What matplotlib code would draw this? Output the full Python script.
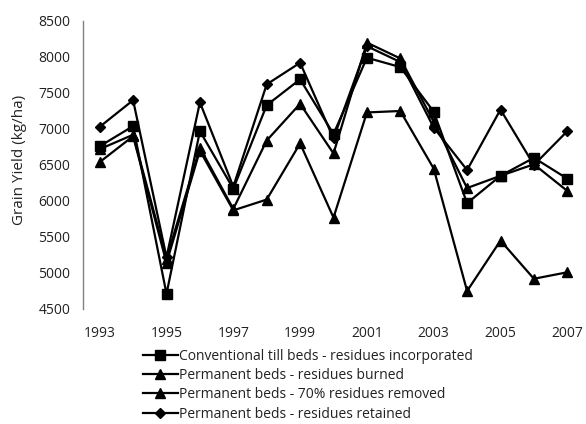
import matplotlib
matplotlib.use("Agg")
import matplotlib.pyplot as plt

years = list(range(1993, 2008))
conventional = [6760, 7040, 4710, 6970, 6170, 7330, 7690, 6930, 7990, 7860, 7240, 5970, 6350, 6600, 6310]
burned = [6540, 6900, 5140, 6700, 5870, 6020, 6800, 5770, 7230, 7250, 6450, 4750, 5450, 4920, 5010]
removed70 = [6720, 6920, 5200, 6740, 5890, 6840, 7350, 6660, 8200, 7980, 7100, 6180, 6350, 6510, 6140]
retained = [7030, 7400, 5220, 7370, 6200, 7620, 7920, 6870, 8150, 7930, 7020, 6430, 7270, 6500, 6970]

labels = [
    "Conventional till beds - residues incorporated",
    "Permanent beds - residues burned",
    "Permanent beds - 70% residues removed",
    "Permanent beds - residues retained",
]
xticks = list(range(1993, 2008, 2))
yticks = list(range(4500, 8501, 500))

plt.rcParams['font.family'] = ['Open Sans', 'DejaVu Sans']

fig = plt.figure(figsize=(5.86, 4.24), dpi=100)
ax = fig.add_axes([83/586, 1-309/424, 501/586, 288/424])

lw = 1.6
h1, = ax.plot(years, conventional, color='black', lw=lw, marker='s', ms=6.5, label=labels[0])
h2, = ax.plot(years, burned, color='black', lw=lw, marker='^', ms=7, label=labels[1])
h3, = ax.plot(years, removed70, color='black', lw=lw, marker='^', ms=7, label=labels[2])
h4, = ax.plot(years, retained, color='black', lw=lw, marker='D', ms=5.5, label=labels[3])

ax.set_xlim(1992.5, 2007.5)
ax.set_ylim(4500, 8500)
ax.set_xticks(xticks)
ax.set_xticklabels([str(x) for x in xticks])
ax.set_yticks(yticks)
ax.tick_params(axis='both', length=0, labelsize=10, colors='#222222')
ax.tick_params(axis='y', pad=9)
ax.tick_params(axis='x', pad=12)
for s in ['top', 'right', 'bottom']:
    ax.spines[s].set_visible(False)
ax.spines['left'].set_color('#808080')
ax.spines['left'].set_linewidth(1.0)
for l in ax.lines:
    l.set_clip_on(False)

fig.text(20/586, 1-160/424, "Grain Yield (kg/ha)", rotation=90, ha='center', va='center',
         fontsize=11, color='#222222')

leg = fig.legend(handles=[h1, h2, h3, h4], loc='upper left',
                 bbox_to_anchor=(143/586, 1-349/424), frameon=False,
                 fontsize=10, handlelength=2.5, handletextpad=0.1,
                 labelspacing=0.3, borderpad=0, borderaxespad=0)
for t in leg.get_texts():
    t.set_color('#222222')

fig.savefig("out.png", dpi=100)
